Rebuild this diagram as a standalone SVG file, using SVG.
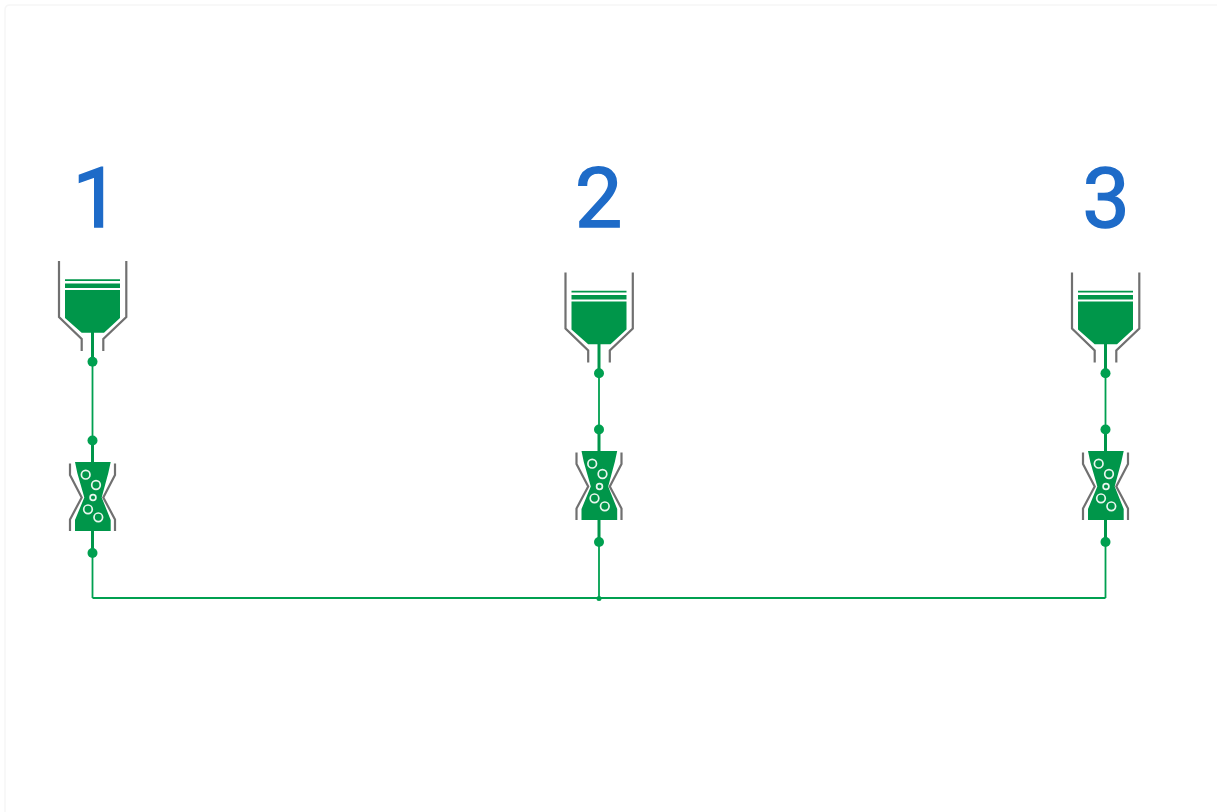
<svg xmlns="http://www.w3.org/2000/svg" width="1217" height="812" viewBox="0 0 1217 812">
<style>
.frame{fill:none;stroke:#f6f6f6;stroke-width:1.5}
.wall{fill:none;stroke:#707070;stroke-width:2.2}
.fill{fill:#00964a}
.stem{stroke:#00964a;stroke-width:3;fill:none}
.wire{stroke:#00a050;stroke-width:1.8;fill:none}
.dot{fill:#00a050}
.bub{fill:none;stroke:#e9f6ee;stroke-width:1.7}
.num{font-family:Roboto,"Liberation Sans",sans-serif;font-size:84px;fill:#1e6bc8;stroke:#1e6bc8;stroke-width:1.6;text-anchor:middle}
</style>
<defs>
<g id="funnel">
<path class="wall" d="M59 261V317L81.7 339V351M126.3 261V317L103.3 339V351"/>
<path class="fill" d="M65 279.2H120V281H65ZM65 283.5H120V288H65ZM65 290H120V318L104 332.7H81.7L65 318Z"/>
<path class="stem" d="M92.5 332V362"/>
<circle class="dot" cx="92.5" cy="361.7" r="5"/>
</g>
<g id="valve">
<path class="wall" d="M70 463.500V475L81.700 497.500L70 519.500V531M115 463.500V475L103.300 497.500L115 519.500V531"/>
<path class="fill" d="M75 462H110.700L108.300 473L101.700 497.500L110.700 520V531H75V520L84.300 497.500L77.300 473Z"/>
<path class="stem" d="M92.5 441V462M92.5 531V553"/>
<circle class="dot" cx="92.5" cy="440.5" r="5"/>
<circle class="dot" cx="92.5" cy="553" r="5"/>
<circle class="bub" cx="85.7" cy="474.7" r="4.300"/>
<circle class="bub" cx="96" cy="485" r="4.300"/>
<circle class="bub" cx="93" cy="497.5" r="2.900"/>
<circle class="bub" cx="88" cy="509.3" r="4.300"/>
<circle class="bub" cx="98.3" cy="517.3" r="4.300"/>
</g>
</defs>
<path class="frame" d="M5 812V10Q5 5 10 5H1217"/>
<g id="connectors">
<path class="wire" d="M92.5 362V441M92.5 553V598M599 373V430M599 542V598M1105.500 373V430M1105.500 542V598M92.5 598H1105.500"/>
<circle class="dot" cx="599" cy="598.500" r="2.500"/>
</g>
<g id="label-1"><text class="num" x="96" y="226.500">1</text></g>
<g id="label-2"><text class="num" x="598.500" y="226.500">2</text></g>
<g id="label-3"><text class="num" x="1106" y="226.500">3</text></g>
<g id="funnel-1"><use href="#funnel"/></g>
<g id="valve-1"><use href="#valve"/></g>
<g id="funnel-2"><use href="#funnel" x="506.500" y="11.500"/></g>
<g id="valve-2"><use href="#valve" x="506.500" y="-11"/></g>
<g id="funnel-3"><use href="#funnel" x="1013" y="11.500"/></g>
<g id="valve-3"><use href="#valve" x="1013" y="-11"/></g>
</svg>
